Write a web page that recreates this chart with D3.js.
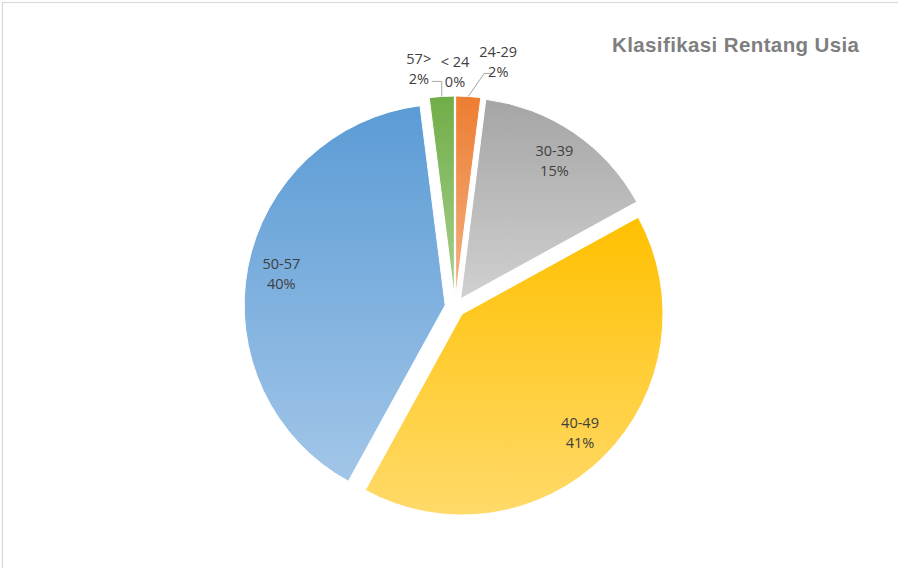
<!DOCTYPE html>
<html>
<head>
<meta charset="utf-8">
<script src="https://cdn.jsdelivr.net/npm/d3@7/dist/d3.min.js"></script>
<style>
html,body{margin:0;padding:0;background:#fff;}
svg{display:block;}
</style>
</head>
<body>
<svg id="chart" width="898" height="568"></svg>
<script>
// ---- data ----
const categories = ["< 24", "24-29", "30-39", "40-49", "50-57", "57>"];
const values = [0, 2, 15, 41, 40, 2];
const percentLabels = ["0%", "2%", "15%", "41%", "40%", "2%"];
const title = "Klasifikasi Rentang Usia";

// ---- styles / layout ----
const topColors = ["#5b9bd5", "#ed7d31", "#a5a5a5", "#ffc000", "#5b9bd5", "#70ad47"];
const bottomColors = ["#9dc3e6", "#f4b183", "#d0d0d0", "#ffda6a", "#a2c6e8", "#a9d18e"];
const W = 898, H = 568;
const cx = 455, cy = 307, R = 201, explode = 10;
const insideK = 0.83;
// outside label layout (relative to slice outer midpoint)
const outsideLayout = {
  "< 24": {dx: 0, dy: -25, leader: null},
  "24-29": {dx: 30, dy: -35, leader: [[0, 0], [16, -23], [24, -23]]},
  "57>": {dx: -23, dy: -28, leader: [[0, 0], [0, -15], [-10, -15]]}
};

const svg = d3.select("#chart");
svg.append("rect").attr("x", 0).attr("y", 0).attr("width", W).attr("height", H).attr("fill", "#fff");
svg.append("rect").attr("x", 2.5).attr("y", 2.5).attr("width", W + 20).attr("height", H + 20)
  .attr("fill", "none").attr("stroke", "#d9d9d9").attr("stroke-width", 1.2);

const defs = svg.append("defs");
categories.forEach((c, i) => {
  const g = defs.append("linearGradient").attr("id", "grad" + i)
    .attr("x1", 0).attr("y1", 0).attr("x2", 0).attr("y2", 1);
  g.append("stop").attr("offset", "0%").attr("stop-color", topColors[i]);
  g.append("stop").attr("offset", "100%").attr("stop-color", bottomColors[i]);
});

const pie = d3.pie().sort(null).value(d => d.v).startAngle(0).endAngle(2 * Math.PI);
const data = categories.map((c, i) => ({c, v: values[i], p: percentLabels[i], i}));
const arcs = pie(data);
const arc = d3.arc().innerRadius(0).outerRadius(R);

const dirOf = a => {
  const m = (a.startAngle + a.endAngle) / 2;
  return [Math.sin(m), -Math.cos(m)];
};

const g = svg.append("g").attr("transform", `translate(${cx},${cy})`);

g.selectAll("path.slice").data(arcs.filter(a => a.data.v > 0)).join("path")
  .attr("class", "slice")
  .attr("d", arc)
  .attr("transform", a => { const d = dirOf(a); return `translate(${d[0] * explode},${d[1] * explode})`; })
  .attr("fill", a => `url(#grad${a.data.i})`)
  .attr("stroke", "#fff").attr("stroke-width", 1);

const labelFont = "'Open Sans', 'Noto Sans', sans-serif";
const labelSize = 14.5;
const labelColor = "#404040";

arcs.forEach(a => {
  const d = dirOf(a);
  let lx, ly;
  const lay = outsideLayout[a.data.c];
  if (lay) {
    const ax = d[0] * (explode + R), ay = d[1] * (explode + R);
    lx = ax + lay.dx; ly = ay + lay.dy;
    if (lay.leader) {
      g.append("polyline")
        .attr("points", lay.leader.map(p => [ax + p[0], ay + p[1]].join(",")).join(" "))
        .attr("fill", "none").attr("stroke", "#a6a6a6").attr("stroke-width", 1);
    }
  } else {
    const rr = explode + insideK * R;
    lx = d[0] * rr; ly = d[1] * rr;
  }
  const t = g.append("text").attr("text-anchor", "middle")
    .attr("font-family", labelFont).attr("font-size", labelSize).attr("fill", labelColor);
  t.append("tspan").attr("x", lx).attr("y", ly - 10).attr("dominant-baseline", "central").text(a.data.c);
  t.append("tspan").attr("x", lx).attr("y", ly + 10).attr("dominant-baseline", "central").text(a.data.p);
});

svg.append("text").attr("x", 612).attr("y", 52)
  .attr("font-family", "'Liberation Sans', Arial, sans-serif").attr("font-weight", "bold")
  .attr("font-size", 20.5).attr("fill", "#7f7f7f")
  .attr("textLength", 247).attr("lengthAdjust", "spacing")
  .text(title);
</script>
</body>
</html>
